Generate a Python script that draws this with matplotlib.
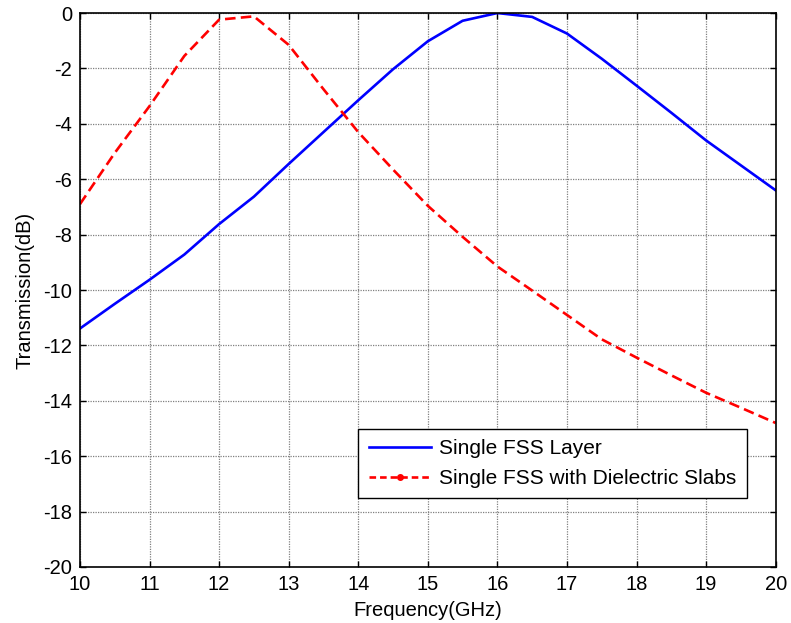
import matplotlib
matplotlib.use("Agg")
import matplotlib.pyplot as plt
from matplotlib.lines import Line2D

plt.rcParams['font.family'] = ['Liberation Sans', 'DejaVu Sans']
plt.rcParams['axes.unicode_minus'] = False

freq = [10, 10.5, 11, 11.5, 12, 12.5, 13, 13.5, 14, 14.5, 15, 15.5, 16, 16.5,
        17, 17.5, 18, 18.5, 19, 19.5, 20]
single_fss = [-11.39, -10.5, -9.63, -8.72, -7.62, -6.63, -5.45, -4.3, -3.15, -2.03,
              -1.02, -0.28, 0.0, -0.14, -0.74, -1.65, -2.62, -3.6, -4.6, -5.5, -6.4]
fss_slabs = [-6.9, -5.05, -3.36, -1.55, -0.24, -0.12, -1.15, -2.75, -4.3, -5.65,
             -6.96, -8.08, -9.15, -10.02, -10.9, -11.78, -12.44, -13.08, -13.71,
             -14.25, -14.8]

xticks = list(range(10, 21))
yticks = list(range(-20, 1, 2))
labels = ['Single FSS Layer', 'Single FSS with Dielectric Slabs']

fig = plt.figure(figsize=(7.91, 6.23), dpi=100)
ax = fig.add_axes([0.1011, 0.0899, 0.8795, 0.8892])

ax.plot(freq, single_fss, color='#0000ff', lw=1.9, solid_joinstyle='miter')
ax.plot(freq, fss_slabs, color='#ff0000', lw=1.9, dashes=(4, 2))

ax.set_xlim(10, 20)
ax.set_ylim(-20, 0)
ax.set_xticks(xticks)
ax.set_yticks(yticks)
ax.set_xticklabels([str(t) for t in xticks])
ax.set_yticklabels([str(t) for t in yticks])
ax.tick_params(direction='in', top=True, right=True, length=4, width=1,
               labelsize=14.5)
ax.tick_params(axis='x', pad=5.5)
ax.tick_params(axis='y', pad=5.5)
ax.grid(True, color='#808080', linestyle=(0, (1, 1)), lw=0.9)
for s in ax.spines.values():
    s.set_linewidth(1.2)

ax.set_xlabel('Frequency(GHz)', fontsize=14.5, labelpad=5)
ax.set_ylabel('Transmission(dB)', fontsize=14.5, labelpad=6)

handles = [Line2D([], [], color='#0000ff', lw=1.9),
           Line2D([], [], color='#ff0000', lw=1.9, dashes=(2.5, 1.5),
                  marker='o', markersize=4)]
leg = ax.legend(handles, labels, loc='upper left',
                bbox_to_anchor=(0.400, 0.249),
                fontsize=15, fancybox=False, edgecolor='black', framealpha=1,
                handlelength=3.0, handletextpad=0.37, borderpad=0.5,
                labelspacing=0.5, numpoints=1, borderaxespad=0)
leg.get_frame().set_linewidth(1.0)

fig.savefig('out.png', dpi=100)
